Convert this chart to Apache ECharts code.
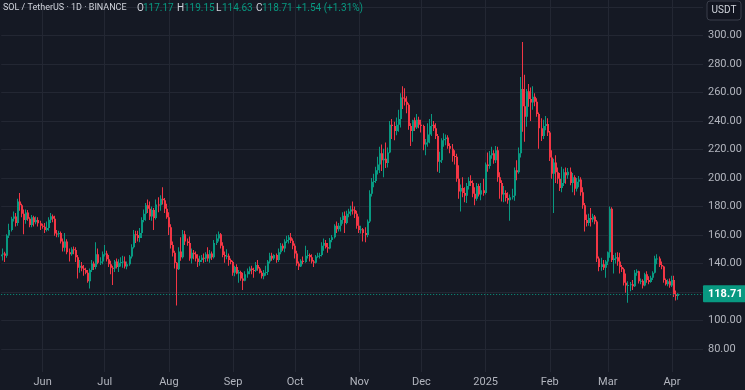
<!DOCTYPE html>
<html>
<head>
<meta charset="utf-8">
<script src="https://cdn.jsdelivr.net/npm/echarts@6/dist/echarts.min.js"></script>
<style>
html,body{margin:0;padding:0;background:#151924;}
#chart{width:745px;height:390px;}
</style>
</head>
<body>
<div id="chart"></div>
<script>
// ---- DATA: daily candles [open, close, low, high], SOL/USDT, 2024-05-12 .. 2025-04-04
const may24 = [
[145.2,146.4,143.0,148.6],[146.4,147.0,142.2,150.5],[147.0,145.4,141.0,148.2],[145.4,159.6,144.0,160.5],
[159.6,163.5,158.0,168.0],[163.5,171.5,162.5,172.8],[171.5,173.0,169.5,176.5],[173.0,168.5,166.0,175.5],
[168.5,183.5,166.5,185.5],[183.5,181.0,177.0,189.5],[181.0,175.0,172.5,182.0],[175.0,170.5,160.5,178.0],
[170.5,175.8,168.0,178.0],[175.8,171.5,170.0,177.5],[171.5,167.0,165.5,172.5],[167.0,172.5,165.5,174.0],
[172.5,169.0,166.0,173.5],[169.0,170.5,167.5,173.0],[170.5,168.2,166.0,172.5],[168.2,166.5,163.5,170.0]
];
const jun24 = [
[166.5,165.8,164.5,168.0],[165.8,163.5,161.5,168.5],[163.5,165.0,162.5,169.5],[165.0,170.8,163.0,172.5],
[170.8,173.2,168.5,175.5],[173.2,171.5,169.0,174.5],[171.5,161.0,159.5,173.5],[161.0,160.5,158.5,163.5],
[160.5,161.5,158.5,163.0],[161.5,155.5,154.0,162.5],[155.5,151.0,148.5,157.5],[151.0,155.5,148.5,161.5],
[155.5,148.0,146.5,157.0],[148.0,146.5,141.5,150.5],[146.5,150.0,145.5,151.5],[150.0,149.5,146.5,152.0],
[149.5,144.5,141.0,151.5],[144.5,137.0,129.5,146.0],[137.0,138.5,133.5,142.5],[138.5,136.5,134.5,141.0],
[136.5,135.5,131.5,139.0],[135.5,133.5,132.5,137.0],[133.5,127.5,126.5,135.5],[127.5,135.5,122.5,136.5],
[135.5,140.0,134.0,142.5],[140.0,137.5,135.5,141.5],[137.5,146.5,136.0,155.0],[146.5,140.5,139.5,150.5],
[140.5,141.5,139.0,144.5],[141.5,146.5,139.5,148.5]
];
const jul24 = [
[146.5,147.0,145.0,153.0],[147.0,143.0,141.5,149.0],[143.0,139.5,137.5,146.0],[139.5,137.0,132.5,142.0],
[137.0,136.5,125.0,138.5],[136.5,141.5,134.0,142.5],[141.5,137.5,136.5,143.5],[137.5,140.5,134.0,143.0],
[140.5,141.0,138.0,144.5],[141.0,141.5,137.0,145.5],[141.5,138.0,136.5,145.0],[138.0,139.5,136.0,141.5],
[139.5,145.0,138.5,146.0],[145.0,151.5,143.5,153.5],[151.5,160.5,150.5,163.5],[160.5,160.0,154.5,163.0],
[160.0,158.0,155.5,163.0],[158.0,161.5,155.0,165.0],[161.5,170.5,158.0,172.5],[170.5,175.0,169.0,178.0],
[175.0,181.0,170.0,182.5],[181.0,178.5,175.5,185.0],[178.5,173.0,170.5,183.5],[173.0,177.5,170.0,180.0],
[177.5,172.0,163.5,179.0],[172.0,181.5,171.0,185.0],[181.5,181.0,176.0,186.5],[181.0,185.5,177.0,188.0],
[185.5,184.5,181.5,193.5],[184.5,178.5,175.5,186.0],[178.5,172.5,171.5,182.0]
];
const aug24 = [
[172.5,165.5,160.0,176.0],[165.5,153.0,150.5,167.5],[153.0,147.5,145.0,155.5],[147.5,140.5,136.5,149.0],
[140.5,136.0,110.5,141.0],[136.0,148.5,135.5,151.5],[148.5,144.5,142.0,158.5],[144.5,160.5,143.5,163.5],
[160.5,155.5,153.0,163.0],[155.5,154.5,152.5,157.5],[154.5,143.5,142.0,159.0],[143.5,147.5,140.0,150.5],
[147.5,146.5,143.0,149.5],[146.5,143.5,141.5,148.5],[143.5,141.0,137.5,146.5],[141.0,142.5,138.5,145.5],
[142.5,144.0,141.0,146.0],[144.0,143.5,140.5,147.0],[143.5,146.5,141.0,148.0],[146.5,143.5,141.5,151.5],
[143.5,147.0,140.5,149.5],[147.0,144.5,142.5,148.5],[144.5,154.5,143.5,156.5],[154.5,157.5,153.0,160.5],
[157.5,160.5,155.5,162.5],[160.5,152.5,150.5,161.5],[152.5,146.0,144.5,155.0],[146.0,145.0,140.5,148.5],
[145.0,145.5,143.0,150.0],[145.5,142.5,138.5,147.0],[142.5,141.0,139.5,143.5]
];
const sep24 = [
[141.0,133.5,131.5,142.0],[133.5,137.5,131.0,138.5],[137.5,133.0,132.5,139.5],[133.0,134.0,126.5,135.5],
[134.0,129.5,128.0,135.0],[129.5,128.0,121.5,133.5],[128.0,132.5,127.5,134.5],[132.5,134.5,130.0,136.5],
[134.5,136.5,132.5,138.0],[136.5,135.5,132.5,138.5],[135.5,135.0,130.0,137.0],[135.0,139.0,134.0,141.0],
[139.0,136.5,135.0,142.5],[136.5,133.5,133.0,137.5],[133.5,131.0,129.5,135.0],[131.0,133.5,129.0,135.5],
[133.5,134.0,131.5,138.5],[134.0,141.5,132.0,142.5],[141.5,145.5,140.0,147.5],[145.5,143.5,142.0,147.5],
[143.5,146.0,142.5,146.5],[146.0,142.5,140.5,147.0],[142.5,148.0,141.0,150.5],[148.0,152.5,146.5,154.5],
[152.5,150.5,149.0,154.0],[150.5,155.5,148.0,157.0],[155.5,156.5,154.5,159.5],[156.5,158.5,154.0,160.0],
[158.5,156.0,154.5,161.5],[156.0,152.5,150.0,157.5]
];
const oct24 = [
[152.5,147.0,143.5,154.0],[147.0,140.0,138.5,149.0],[140.0,138.0,135.5,141.5],[138.0,142.0,137.5,143.0],
[142.0,141.0,139.5,145.0],[141.0,145.5,140.5,152.5],[145.5,146.0,143.5,149.5],[146.0,144.5,141.5,147.0],
[144.5,141.5,140.0,146.5],[141.5,140.5,137.5,142.5],[140.5,145.0,140.0,146.0],[145.0,145.5,144.0,147.5],
[145.5,146.0,143.5,147.5],[146.0,152.5,145.0,155.0],[152.5,154.5,149.0,157.5],[154.5,151.5,150.5,156.5],
[151.5,150.5,147.5,154.5],[150.5,156.5,150.0,158.0],[156.5,158.5,155.0,160.0],[158.5,166.5,157.5,167.5],
[166.5,164.0,161.5,169.5],[164.0,166.5,162.5,168.5],[166.5,170.5,162.5,172.5],[170.5,173.5,168.0,176.0],
[173.5,168.5,161.5,176.5],[168.5,175.0,167.5,177.0],[175.0,176.5,172.5,178.5],[176.5,178.0,173.5,180.5],
[178.0,177.5,174.5,183.5],[177.5,175.0,172.0,180.0],[175.0,166.5,164.5,177.0]
];
const nov24 = [
[166.5,163.5,161.5,173.0],[163.5,164.0,161.0,166.5],[164.0,161.5,155.5,165.0],[161.5,160.0,155.0,165.5],
[160.0,169.5,158.5,171.0],[169.5,189.0,168.5,191.5],[189.0,197.5,187.0,200.0],[197.5,198.0,193.5,203.0],
[198.0,205.5,196.5,208.0],[205.5,209.5,202.5,215.0],[209.5,217.5,203.5,222.0],[217.5,212.5,205.0,223.5],
[212.5,213.5,200.5,220.5],[213.5,210.5,207.0,225.0],[210.5,218.0,207.5,221.5],[218.0,237.5,217.5,240.0],
[237.5,236.5,227.5,241.5],[236.5,233.0,226.5,239.5],[233.0,237.5,230.0,242.5],[237.5,241.5,232.5,248.0],
[241.5,256.5,235.5,259.5],[256.5,256.0,248.5,264.5],[256.0,253.5,251.0,263.0],[253.5,251.5,245.5,257.5],
[251.5,236.5,234.0,252.5],[236.5,233.0,222.5,238.5],[233.0,240.5,225.5,241.0],[240.5,235.5,233.0,242.5],
[235.5,241.0,234.5,245.0],[241.0,237.5,235.0,243.0]
];
const dec24 = [
[237.5,236.5,232.0,241.0],[236.5,223.5,219.5,237.5],[223.5,225.0,216.0,227.5],[225.0,230.5,222.0,238.5],
[230.5,236.5,224.5,241.5],[236.5,237.5,229.5,245.0],[237.5,235.0,233.0,240.0],[235.0,229.5,227.5,238.5],
[229.5,211.5,204.5,231.0],[211.5,212.5,203.5,218.5],[212.5,226.5,210.5,228.0],[226.5,227.5,222.0,231.5],
[227.5,228.5,223.0,230.5],[228.5,222.5,220.5,230.0],[222.5,220.5,217.5,224.5],[220.5,215.5,211.5,224.0],
[215.5,215.0,209.5,219.5],[215.0,199.5,197.5,217.0],[199.5,190.5,185.5,209.0],[190.5,193.0,176.5,195.5],
[193.0,189.5,186.5,200.5],[189.5,187.5,183.0,193.5],[187.5,194.5,182.5,196.5],[194.5,198.0,192.0,200.5],
[198.0,196.5,194.5,202.0],[196.5,189.0,186.5,198.5],[189.0,185.5,181.0,193.5],[185.5,194.5,184.0,196.5],
[194.5,188.5,187.0,196.0],[188.5,191.5,184.5,196.5],[191.5,189.5,187.5,199.5]
];
const jan25 = [
[189.5,209.5,188.5,211.0],[209.5,208.5,204.5,218.0],[208.5,216.0,206.5,219.0],[216.0,217.5,213.5,222.0],
[217.5,212.5,210.0,219.5],[212.5,219.5,210.5,222.5],[219.5,200.5,197.5,222.0],[200.5,196.5,185.5,204.0],
[196.5,188.5,183.5,198.5],[188.5,189.5,183.0,194.5],[189.5,186.0,183.5,191.5],[186.0,184.5,182.0,190.0],
[184.5,186.5,170.0,188.5],[186.5,187.5,185.0,192.5],[187.5,205.5,184.0,207.5],[205.5,204.0,198.5,212.5],
[204.0,217.5,203.0,221.5],[217.5,262.5,214.5,271.0],[262.5,250.5,232.5,295.5],[250.5,243.0,225.5,272.5],
[243.0,261.0,236.0,262.5],[261.0,255.5,250.0,266.0],[255.5,253.0,240.0,263.5],[253.0,257.0,248.0,264.5],
[257.0,253.5,250.5,259.5],[253.5,245.0,243.0,256.0],[245.0,235.0,220.5,246.0],[235.0,229.5,226.0,242.0],
[229.5,236.5,227.5,241.0],[236.5,238.0,233.5,243.5],[238.0,232.0,229.5,242.0]
];
const feb25 = [
[232.0,214.5,212.0,233.0],[214.5,203.0,199.5,219.5],[203.0,211.0,175.5,213.5],[211.0,204.0,196.5,216.0],
[204.0,199.5,196.0,207.5],[199.5,193.0,191.0,203.5],[193.0,196.5,190.0,208.0],[196.5,204.0,194.5,206.5],
[204.0,202.0,196.0,207.5],[202.0,204.5,199.5,207.0],[204.5,196.5,195.0,207.5],[196.5,200.5,190.0,203.5],
[200.5,192.5,188.0,202.0],[192.5,197.5,190.5,200.0],[197.5,199.0,193.5,201.5],[199.0,190.0,187.5,200.5],
[190.0,181.0,178.5,193.5],[181.0,170.5,162.5,182.5],[170.5,168.5,166.0,174.5],[168.5,172.0,166.5,175.0],
[172.0,171.0,166.0,179.0],[171.0,173.0,169.0,175.0],[173.0,169.5,167.5,174.0],[169.5,143.5,141.0,170.5],
[143.5,137.5,134.5,145.0],[137.5,139.5,135.0,144.0],[139.5,137.0,135.5,142.5],[137.0,141.5,130.0,142.5]
];
const mar25 = [
[141.5,148.0,139.0,148.5],[148.0,178.5,144.0,180.0],[178.5,142.5,141.0,179.5],[142.5,143.5,133.0,146.0],
[143.5,144.5,140.0,147.5],[144.5,141.5,138.5,148.0],[141.5,137.5,133.0,147.5],[137.5,136.0,134.0,139.0],
[136.0,126.5,124.5,137.0],[126.5,124.5,119.5,133.0],[124.5,125.0,112.5,127.5],[125.0,125.5,120.5,127.0],
[125.5,124.0,121.5,128.5],[124.0,133.5,123.5,135.5],[133.5,134.5,131.5,136.0],[134.5,127.5,126.0,135.0],
[127.5,128.0,125.5,129.5],[128.0,124.5,122.5,129.0],[124.5,132.5,124.0,133.5],[132.5,128.5,126.5,134.5],
[128.5,127.0,125.5,131.0],[127.0,130.0,126.5,131.5],[130.0,133.5,128.5,134.5],[133.5,143.5,133.0,145.5],
[143.5,143.5,139.5,146.5],[143.5,139.0,137.5,145.0],[139.0,138.0,136.0,141.5],[138.0,128.5,126.5,138.5],
[128.5,125.5,124.5,129.5],[125.5,127.5,124.0,129.0],[127.5,124.5,123.0,129.5]
];
const apr25 = [
[124.5,128.5,123.5,131.5],[128.5,118.5,116.5,131.5],[118.5,117.17,114.0,121.0],[117.17,118.71,114.63,119.15]
];
const lastOHLC = { o: '117.17', h: '119.15', l: '114.63', c: '118.71', chg: '+1.54 (+1.31%)' };
const lastClose = 118.71;
const priceTicks = [80, 100, 120, 140, 160, 180, 200, 220, 240, 260, 280, 300];
const monthTickLabels = ['2025','Feb','Mar','Apr','May','Jun','Jul','Aug','Sep','Oct','Nov','Dec'];
const startDay = '2024-05-12';
const totalSlots = 340; // days shown incl. empty right margin

// ---- build
const candles = [].concat(may24, jun24, jul24, aug24, sep24, oct24, nov24, dec24, jan25, feb25, mar25, apr25);
const candleRows = candles.map((d, i) => [i, d[0], d[1], d[2], d[3]]);
const categories = [];
const t0 = Date.parse(startDay + 'T00:00:00Z');
for (let i = 0; i < totalSlots; i++) {
  categories.push(new Date(t0 + i * 86400000).toISOString().slice(0, 10));
}
const isMonthStart = (idx, val) => typeof val === 'string' && val.slice(8) === '01';
const monthLabel = (val) => monthTickLabels[parseInt(val.slice(5, 7), 10) - 1];

const UP = '#089981', DOWN = '#f23645', GRID = '#232733', TXT = '#b2b5be', HEAD = '#d1d4dc';
const FONT = 'Roboto';

function renderCandle(params, api) {
  const i = api.value(0), o = api.value(1), c = api.value(2), l = api.value(3), h = api.value(4);
  const pO = api.coord([i, o]), pC = api.coord([i, c]), pL = api.coord([i, l]), pH = api.coord([i, h]);
  const cx = Math.round(pO[0]);
  const col = c >= o ? UP : DOWN;
  const yTop = Math.min(pO[1], pC[1]);
  const bh = Math.max(1, Math.abs(pO[1] - pC[1]));
  return {
    type: 'group',
    children: [
      { type: 'rect', shape: { x: cx - 1, y: pH[1], width: 1, height: Math.max(1, pL[1] - pH[1]) }, style: { fill: col } },
      { type: 'rect', shape: { x: cx - 1, y: yTop, width: 2, height: bh }, style: { fill: col } }
    ]
  };
}

function headText(x, text, fill, size) {
  return { type: 'text', x: x, y: 8, z: 50,
    style: { text: text, fill: fill, fontSize: size, fontFamily: FONT, verticalAlign: 'middle', align: 'left' } };
}

const chart = echarts.init(document.getElementById('chart'), null, { renderer: 'canvas' });
chart.setOption({
  backgroundColor: '#151924',
  animation: false,
  grid: [
    { left: 1.2, right: 42, top: 0, bottom: 12.5 },
    { left: 1.2, right: 42, top: 0, bottom: 18 }
  ],
  xAxis: [
    { type: 'category', gridIndex: 0, data: categories, boundaryGap: false, show: false },
    {
      type: 'category', gridIndex: 1, data: categories, boundaryGap: false,
      axisLine: { show: false }, axisTick: { show: false },
      axisLabel: {
        interval: isMonthStart, margin: 5, color: TXT, fontSize: 11, fontFamily: FONT,
        formatter: (v) => monthLabel(v)
      },
      splitLine: { show: true, interval: isMonthStart, lineStyle: { color: GRID, width: 1 } }
    }
  ],
  yAxis: [
    {
      type: 'value', gridIndex: 0, position: 'right', min: 60, max: 325, interval: 20,
      axisLine: { show: false }, axisTick: { show: false },
      splitLine: { show: true, showMinLine: false, showMaxLine: false, lineStyle: { color: GRID, width: 1 } },
      axisLabel: {
        color: TXT, fontSize: 11, fontFamily: FONT, margin: 5, showMinLabel: false, showMaxLabel: false,
        formatter: (v) => priceTicks.indexOf(v) >= 0 ? v.toFixed(2) : ''
      }
    },
    { type: 'value', gridIndex: 1, show: false, min: 0, max: 1, splitLine: { show: false } }
  ],
  series: [
    {
      type: 'custom', xAxisIndex: 0, yAxisIndex: 0, data: candleRows,
      encode: { x: 0, y: [1, 2, 3, 4] }, renderItem: renderCandle, clip: true, silent: true
    },
    {
      type: 'line', xAxisIndex: 0, yAxisIndex: 0, data: [], silent: true,
      markLine: {
        silent: true, symbol: ['none', 'none'], animation: false,
        lineStyle: { color: UP, type: [1, 2], width: 1, opacity: 1 },
        label: {
          show: true, position: 'end', distance: 0, formatter: lastClose.toFixed(2),
          backgroundColor: UP, color: '#ffffff', fontSize: 11, fontWeight: 'bold', fontFamily: FONT,
          padding: [3, 5, 3, 5], borderRadius: 1
        },
        emphasis: { disabled: true },
        data: [{ yAxis: lastClose }]
      }
    }
  ],
  graphic: [
    headText(3, 'SOL / TetherUS · 1D · BINANCE', HEAD, 9),
    headText(137, 'O', HEAD, 10),
    headText(143, lastOHLC.o, UP, 10),
    headText(177, 'H', HEAD, 10),
    headText(184, lastOHLC.h, UP, 10),
    headText(216, 'L', HEAD, 10),
    headText(222, lastOHLC.l, UP, 10),
    headText(256, 'C', HEAD, 10),
    headText(262, lastOHLC.c, UP, 10),
    headText(296, lastOHLC.chg, UP, 10),
    { type: 'rect', x: 707, y: 1, z: 100, shape: { width: 34, height: 19, r: 3 }, style: { fill: '#121520', stroke: '#3a3e4a', lineWidth: 1 } },
    { type: 'text', x: 724, y: 10.5, z: 101, style: { text: 'USDT', fill: HEAD, fontSize: 10, fontFamily: FONT, align: 'center', verticalAlign: 'middle' } }
  ]
});
</script>
</body>
</html>
